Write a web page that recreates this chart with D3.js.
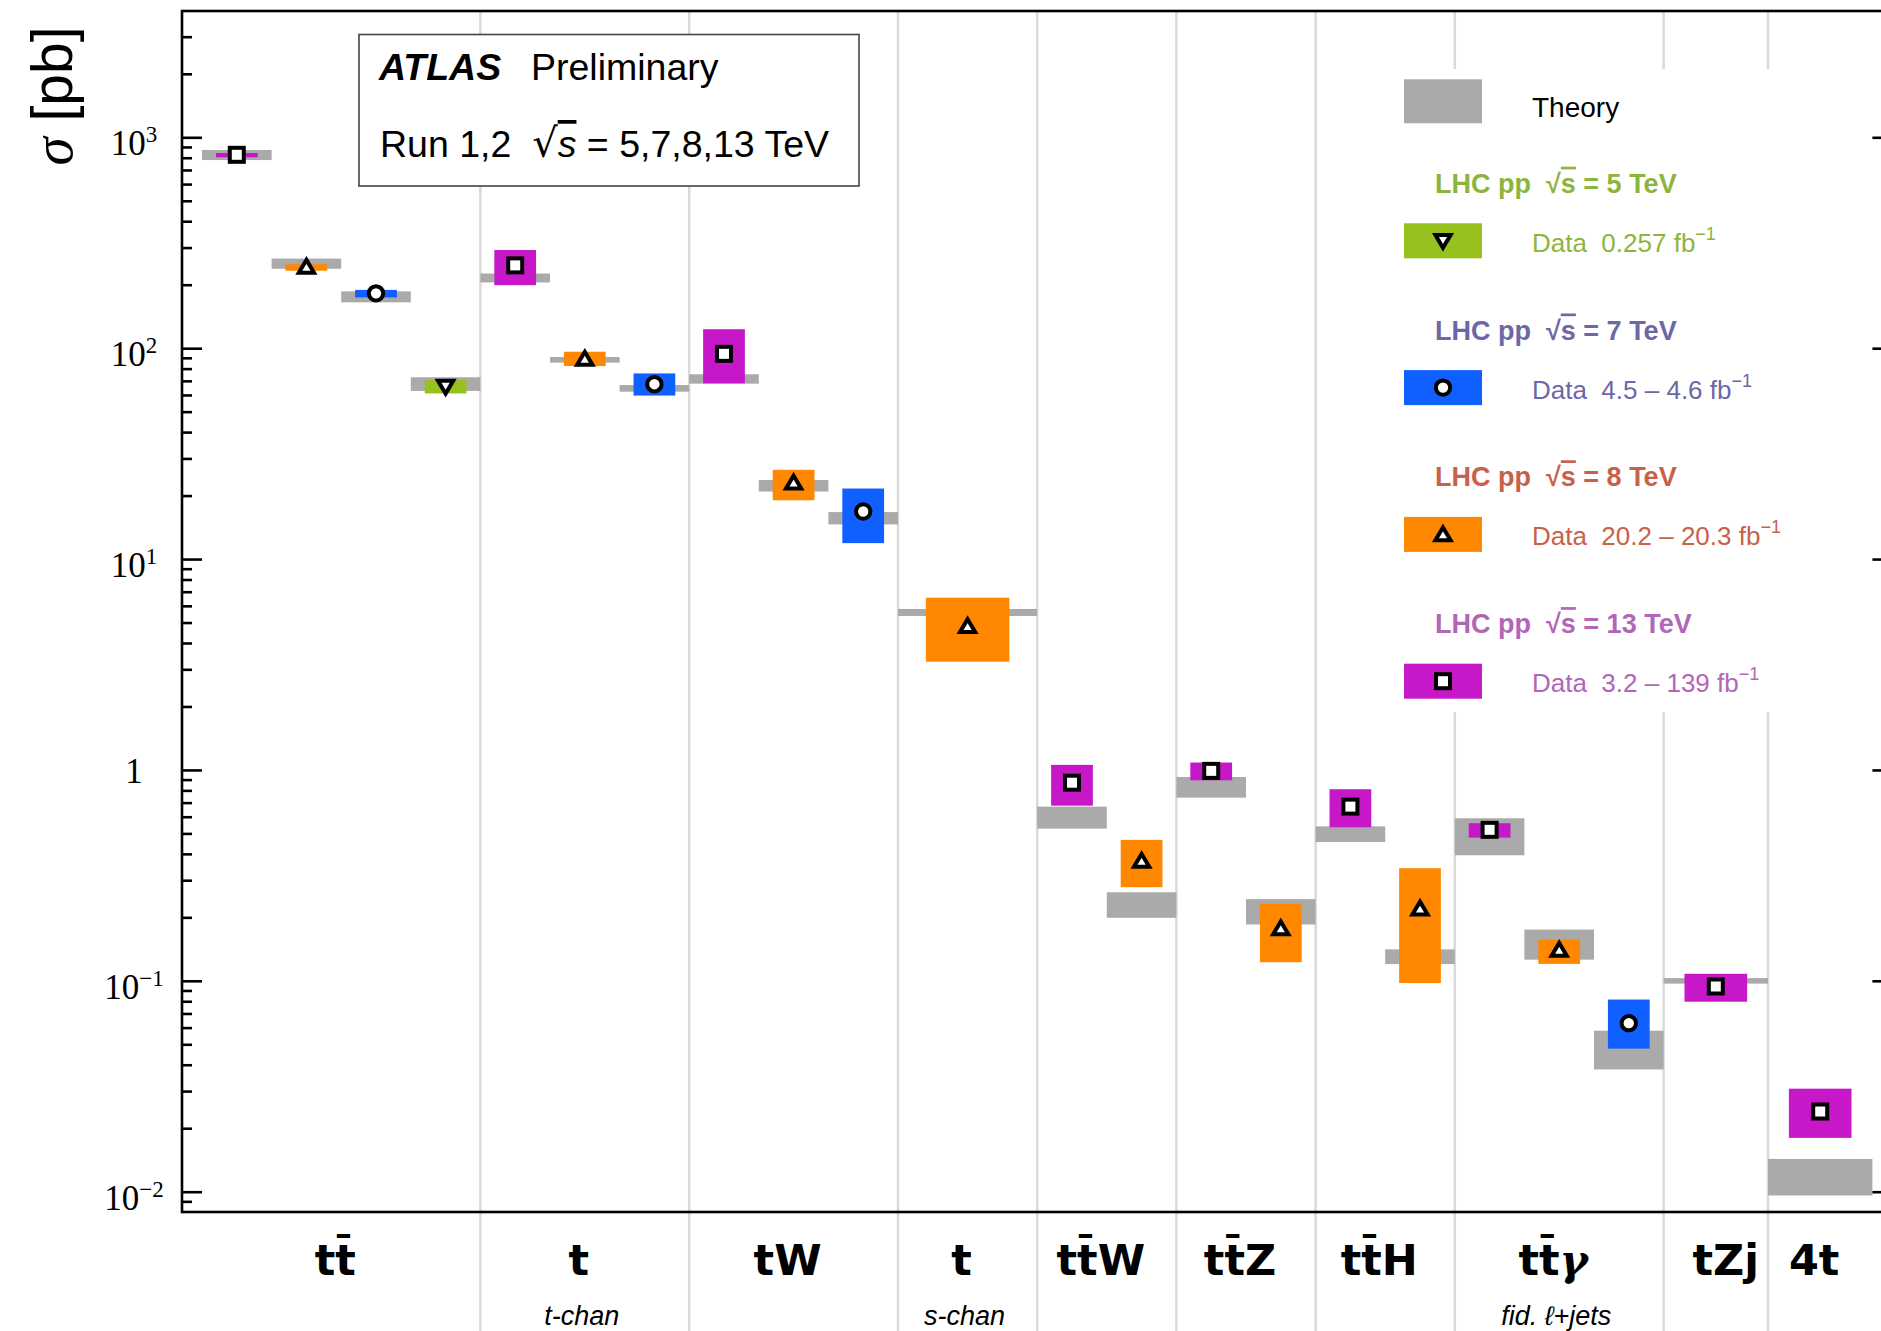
<!DOCTYPE html>
<html>
<head>
<meta charset="utf-8">
<script src="https://cdn.jsdelivr.net/npm/d3@7"></script>
<style>
  body { margin: 0; background: #fff; }
  svg { display: block; }
  svg text { white-space: pre; }
</style>
</head>
<body>
<svg id="chart" width="1881" height="1331"></svg>
<script>
// ---- Top-quark production cross-sections (pb) ----
const processLabels = ["tt\u0304", "t", "tW", "t", "tt\u0304W", "tt\u0304Z", "tt\u0304H", "tt\u0304\u03B3", "tZj", "4t"];
const processNotes  = ["", "t-chan", "", "s-chan", "", "", "", "fid. \u2113+jets", "", ""];
const slotWidth     = [1, 1, 1, 2, 1, 1, 1, 1, 1.5, 1.5];
const runs = [
  ["13", "8", "7", "5"], ["13", "8", "7"], ["13", "8", "7"], ["8"],
  ["13", "8"], ["13", "8"], ["13", "8"], ["13", "8", "7"], ["13"], ["13"]
];
const theoryLo = [[780, 238, 165, 62.7], [205, 85.4, 62.2], [67.9, 20.9, 14.6], [5.37],
  [0.527, 0.199], [0.739, 0.185], [0.455, 0.120], [0.394, 0.126, 0.038], [0.097], [0.0096]];
const theoryHi = [[871, 266, 186, 72.8], [226, 90.8, 66.9], [75.2, 23.7, 16.7], [5.80],
  [0.670, 0.263], [0.926, 0.244], [0.540, 0.141], [0.590, 0.175, 0.058], [0.103], [0.0143]];
const dataValue = [[826, 243, 182, 65.7], [247, 89, 67.5], [94, 23, 16.8], [4.8],
  [0.87, 0.37], [0.99, 0.177], [0.67, 0.22], [0.52, 0.14, 0.063], [0.094], [0.024]];
const dataLo = [[804, 233, 174, 61], [199, 82.3, 59.6], [68.1, 19.0, 11.9], [3.26],
  [0.677, 0.278], [0.893, 0.1225], [0.535, 0.0976], [0.4775, 0.1203, 0.0477], [0.0796], [0.018]];
const dataHi = [[842, 250, 189, 70.6], [292, 96.2, 75.9], [123, 26.5, 21.6], [6.56],
  [1.057, 0.466], [1.084, 0.232], [0.81, 0.342], [0.559, 0.157, 0.0815], [0.108], [0.0308]];

// ---- centre-of-mass energies ----
const energyKeys   = ["5", "7", "8", "13"];
const energyFill   = ["#97c11f", "#1060ff", "#ff8800", "#c618c9"];
const energyText   = ["#8db53d", "#6c67a6", "#c8614a", "#b266b8"];
const energyMarker = ["triangleDown", "circle", "triangleUp", "square"];
const energyLumi   = ["0.257", "4.5 \u2013 4.6", "20.2 \u2013 20.3", "3.2 \u2013 139"];

// ---- y axis ----
const yMajorTicks   = [1e-2, 1e-1, 1, 1e1, 1e2, 1e3];
const yTickExponent = ["\u22122", "\u22121", null, "1", "2", "3"];
const yMinorMantissa = [2, 3, 4, 5, 6, 7, 8, 9];

const theoryColor = "#aaaaaa";
const gridColor = "#d9d9d9";

const svg = d3.select("#chart");
const W = 1881, H = 1331;
const frame = { left: 182, top: 11, bottom: 1212, right: 1892.4 };
// horizontal nudges of the process labels, in px
const labelNudge = { "tZj": 16 };

const totalSlots = d3.sum(runs, (r, i) => r.length * slotWidth[i]);
const x = d3.scaleLinear().domain([0, totalSlots]).range([frame.left + 20, frame.right - 20]);
const y = d3.scaleLog().domain([1e-2, 1e3]).range([1191.7, 137.3]);
const yLo = y.invert(frame.bottom), yHi = y.invert(frame.top);

svg.append("rect").attr("width", W).attr("height", H).attr("fill", "#fff");

// Build entries with slot positions
let cursor = 0;
const entries = [], groups = [];
runs.forEach((rs, p) => {
  const start = cursor;
  rs.forEach((e, j) => {
    entries.push({
      p, e, k: energyKeys.indexOf(e),
      x0: cursor, x1: cursor + slotWidth[p],
      tLo: theoryLo[p][j], tHi: theoryHi[p][j],
      v: dataValue[p][j], lo: dataLo[p][j], hi: dataHi[p][j]
    });
    cursor += slotWidth[p];
  });
  groups.push({ p, start, end: cursor });
});

// Process separators
svg.append("g").selectAll("line")
  .data(groups.slice(0, -1))
  .join("line")
  .attr("x1", d => x(d.end)).attr("x2", d => x(d.end))
  .attr("y1", frame.top).attr("y2", H)
  .attr("stroke", gridColor).attr("stroke-width", 2.5);

// Theory bands
svg.append("g").selectAll("rect")
  .data(entries)
  .join("rect")
  .attr("x", d => x(d.x0))
  .attr("width", d => x(d.x1) - x(d.x0))
  .attr("y", d => y(d.tHi))
  .attr("height", d => y(d.tLo) - y(d.tHi))
  .attr("fill", theoryColor);

// Measurement bands
svg.append("g").selectAll("rect")
  .data(entries)
  .join("rect")
  .attr("x", d => { const w = x(d.x1) - x(d.x0); return x((d.x0 + d.x1) / 2) - 0.3 * w; })
  .attr("width", d => 0.6 * (x(d.x1) - x(d.x0)))
  .attr("y", d => y(d.hi))
  .attr("height", d => y(d.lo) - y(d.hi))
  .attr("fill", d => energyFill[d.k]);

function drawMarker(sel, shape, cx, cy) {
  const common = s => s.attr("fill", "#fff").attr("stroke", "#000").attr("stroke-width", 4);
  if (shape === "square") {
    common(sel.append("rect").attr("x", cx - 7).attr("y", cy - 7).attr("width", 14).attr("height", 14));
  } else if (shape === "circle") {
    common(sel.append("circle").attr("cx", cx).attr("cy", cy).attr("r", 7.2));
  } else {
    const s = shape === "triangleUp" ? 1 : -1;
    const pts = [[cx, cy - 7 * s], [cx + 7.6, cy + 5.8 * s], [cx - 7.6, cy + 5.8 * s]];
    common(sel.append("path").attr("d", "M" + pts.join("L") + "Z").attr("stroke-width", 3.8)
      .attr("stroke-linejoin", "miter"));
  }
}

const markerLayer = svg.append("g");
entries.forEach(d => drawMarker(markerLayer, energyMarker[d.k], x((d.x0 + d.x1) / 2), y(d.v)));

// ---- ATLAS label box ----
const atlas = svg.append("g").attr("font-family", "'Liberation Sans', Arial, sans-serif").attr("font-size", 37.5);
atlas.append("rect").attr("x", 359).attr("y", 34.5).attr("width", 500).attr("height", 151.5)
  .attr("fill", "#fff").attr("stroke", "#444").attr("stroke-width", 1.6);
atlas.append("text").attr("x", 379).attr("y", 80).attr("font-weight", "bold").attr("font-style", "italic").text("ATLAS");
atlas.append("text").attr("x", 531).attr("y", 80).text("Preliminary");
const runText = atlas.append("text").attr("x", 380).attr("y", 157);
runText.append("tspan").text("Run 1,2  ");
runText.append("tspan").attr("font-family", "'DejaVu Serif', serif").attr("font-size", 40).text("\u221A");
runText.append("tspan").attr("font-style", "italic").style("text-decoration", "overline").text("s");
runText.append("tspan").text(" = 5,7,8,13 TeV");

// ---- Legend ----
const legend = svg.append("g").attr("font-family", "'Liberation Sans', Arial, sans-serif");
legend.append("rect").attr("x", 1392).attr("y", 69).attr("width", 470).attr("height", 643).attr("fill", "#fff");
legend.append("rect").attr("x", 1404).attr("y", 79.3).attr("width", 78).attr("height", 44).attr("fill", theoryColor);
legend.append("text").attr("x", 1532).attr("y", 116.7).attr("font-size", 28).attr("fill", "#000").text("Theory");

energyKeys.forEach((e, i) => {
  const dy = i * 146.8;
  const head = legend.append("text").attr("x", 1435).attr("y", 192.7 + dy)
    .attr("font-size", 27).attr("font-weight", "bold").attr("fill", energyText[i]);
  head.append("tspan").text("LHC pp  \u221A");
  head.append("tspan").style("text-decoration", "overline").text("s");
  head.append("tspan").text(" = " + e + " TeV");

  legend.append("rect").attr("x", 1404).attr("y", 223.3 + dy).attr("width", 78).attr("height", 35)
    .attr("fill", energyFill[i]);
  drawMarker(legend, energyMarker[i], 1443, 240.8 + dy);

  const t = legend.append("text").attr("x", 1532).attr("y", 251.7 + dy)
    .attr("font-size", 26).attr("fill", energyText[i]);
  t.append("tspan").text("Data  " + energyLumi[i] + " fb");
  t.append("tspan").attr("font-size", 18).attr("dy", -12).text("\u22121");
});

// ---- Frame and axes ----
const minorTicks = [];
for (let k = -3; k <= 3; k++) yMinorMantissa.forEach(m => {
  const v = m * Math.pow(10, k);
  if (v >= yLo && v <= yHi) minorTicks.push(v);
});

const axisStyle = g => {
  g.select(".domain").remove();
  g.selectAll("line").attr("stroke", "#000").attr("stroke-width", 2.6);
  g.selectAll("text").remove();
};
svg.append("g").attr("transform", `translate(${frame.left},0)`)
  .call(d3.axisRight(y).tickValues(yMajorTicks).tickSize(20)).call(axisStyle);
svg.append("g").attr("transform", `translate(${frame.left},0)`)
  .call(d3.axisRight(y).tickValues(minorTicks).tickSize(10)).call(axisStyle);
svg.append("g").attr("transform", `translate(${frame.right},0)`)
  .call(d3.axisLeft(y).tickValues(yMajorTicks).tickSize(20)).call(axisStyle);
svg.append("g").attr("transform", `translate(${frame.right},0)`)
  .call(d3.axisLeft(y).tickValues(minorTicks).tickSize(10)).call(axisStyle);

svg.append("rect").attr("x", frame.left).attr("y", frame.top)
  .attr("width", frame.right - frame.left).attr("height", frame.bottom - frame.top)
  .attr("fill", "none").attr("stroke", "#000").attr("stroke-width", 2.6);

// y tick labels
const yLabels = svg.append("g").attr("font-family", "'Liberation Serif', 'Times New Roman', serif")
  .attr("font-size", 35).attr("text-anchor", "middle").attr("fill", "#000");
yMajorTicks.forEach((v, i) => {
  const exp = yTickExponent[i];
  const t = yLabels.append("text").attr("x", 134).attr("y", y(v) + (exp ? 18 : 13.5));
  if (exp) {
    t.append("tspan").text("10");
    t.append("tspan").attr("font-size", 23).attr("dy", -13).text(exp);
  } else {
    t.text("1");
  }
});

// y axis title
const yTitle = svg.append("text").attr("transform", "translate(72,96) rotate(-90)")
  .attr("text-anchor", "middle").attr("font-size", 57)
  .attr("font-family", "'Liberation Sans', Arial, sans-serif").attr("fill", "#000");
yTitle.append("tspan").attr("font-family", "'Liberation Serif', serif").attr("font-style", "italic").text("\u03C3");
yTitle.append("tspan").text(" [pb]");

// process labels
const xLabels = svg.append("g").attr("text-anchor", "middle").attr("fill", "#000");
groups.forEach(gr => {
  const lbl = processLabels[gr.p];
  const cx = x((gr.start + gr.end) / 2) - 6 + (labelNudge[lbl] || 0);
  const t = xLabels.append("text").attr("x", cx).attr("y", 1275)
    .attr("font-family", "'DejaVu Sans', sans-serif").attr("font-weight", "bold").attr("font-size", 43);
  if (lbl.endsWith("\u03B3")) {
    t.append("tspan").text(lbl.slice(0, -1));
    t.append("tspan").attr("font-family", "'DejaVu Serif', serif").attr("font-style", "italic").text("\u03B3");
  } else {
    t.text(lbl);
  }
  if (processNotes[gr.p]) {
    xLabels.append("text").attr("x", cx + 3).attr("y", 1325)
      .attr("font-family", "'Liberation Sans', Arial, sans-serif").attr("font-style", "italic")
      .attr("font-size", 27).text(processNotes[gr.p]);
  }
});
</script>
</body>
</html>
